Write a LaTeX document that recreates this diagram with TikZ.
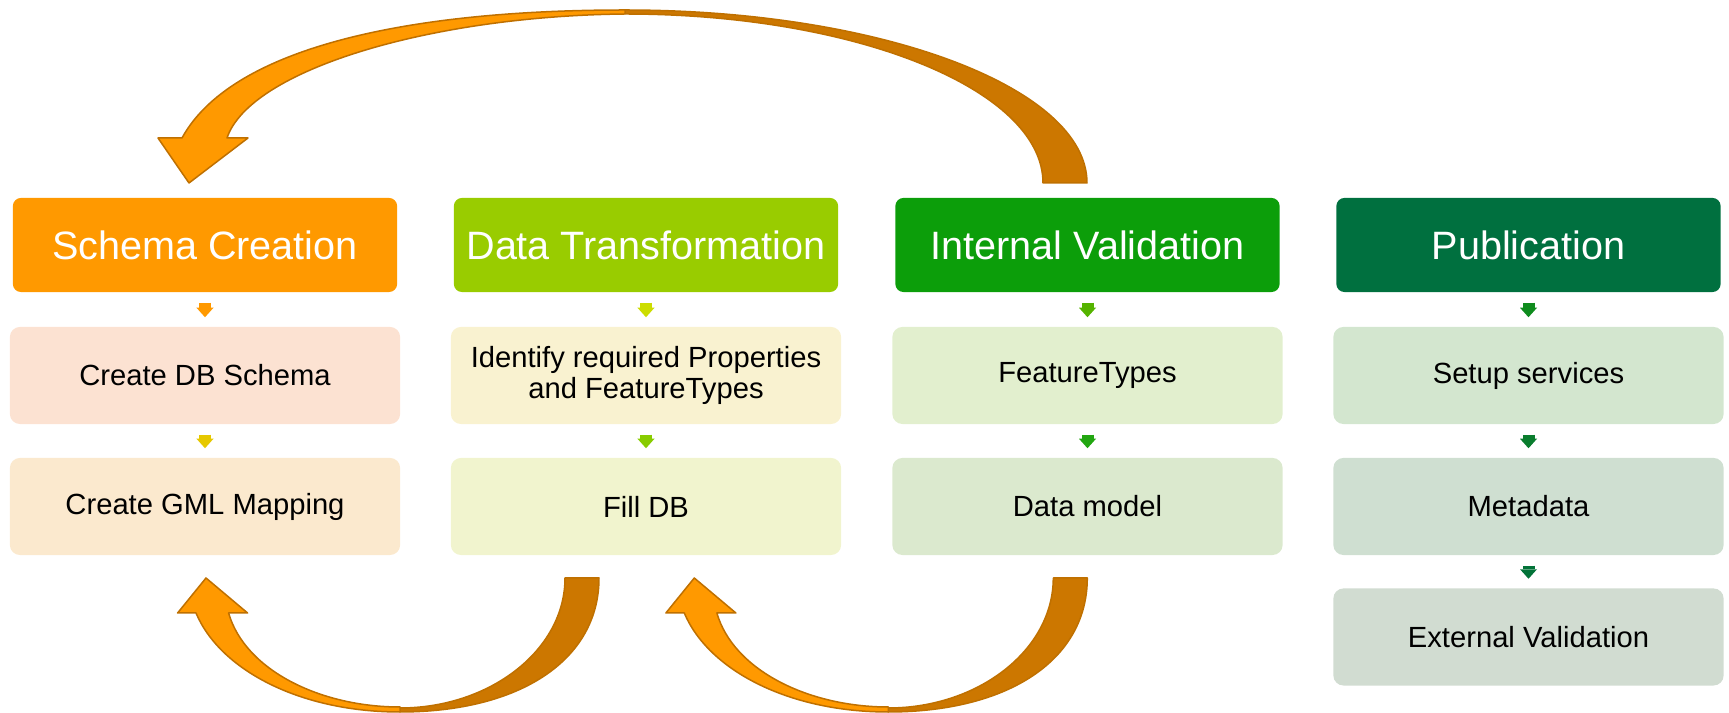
\documentclass[tikz,border=0pt]{standalone}
\usepackage{fontspec}
\setmainfont{Liberation Sans}
\usetikzlibrary{arrows.meta}
\definecolor{hOrange}{HTML}{FF9900}
\definecolor{hLime}{HTML}{99CC00}
\definecolor{hGreen}{HTML}{0C9E0A}
\definecolor{hDark}{HTML}{00703F}
\definecolor{bA1}{HTML}{FCE2D2}
\definecolor{bA2}{HTML}{FBE9CE}
\definecolor{bB1}{HTML}{F9F2D0}
\definecolor{bB2}{HTML}{F1F4CE}
\definecolor{bC1}{HTML}{E2EFCE}
\definecolor{bC2}{HTML}{DBE9CE}
\definecolor{bD1}{HTML}{D3E6CF}
\definecolor{bD2}{HTML}{CFDFD1}
\definecolor{bD3}{HTML}{D1DCD1}
\definecolor{aA1}{HTML}{FF9900}
\definecolor{aA2}{HTML}{E6C800}
\definecolor{aB1}{HTML}{CCDD00}
\definecolor{aB2}{HTML}{88CC00}
\definecolor{aC1}{HTML}{55B300}
\definecolor{aC2}{HTML}{22A611}
\definecolor{aD1}{HTML}{0F8C1E}
\definecolor{aD2}{HTML}{0A7D2E}
\definecolor{aD3}{HTML}{037339}
\definecolor{arrLight}{HTML}{FF9900}
\definecolor{arrDark}{HTML}{CC7700}
\definecolor{arrLine}{HTML}{BF7000}
\begin{document}
\begin{tikzpicture}[x=0.01cm,y=-0.01cm,
  hdr/.style={rounded corners=0.08cm, minimum width=3.84cm, minimum height=0.94cm,
    text=white, font=\fontsize{11.25}{13}\selectfont, inner sep=0pt},
  sub/.style={rounded corners=0.1cm, minimum width=3.9cm, minimum height=0.97cm,
    font=\fontsize{8.3}{8.75}\selectfont, align=center, inner sep=0pt},
  dn/.style={line width=0.12cm, -{Triangle[width=0.17cm,length=0.095cm,line width=0pt]},
    shorten <=0.1cm, shorten >=0.09cm},
  bigpart/.style={draw=arrLine, line width=0.015cm, line join=round}
]
\useasboundingbox (0,0) rectangle (1729,713);

% column 1
\node[hdr, fill=hOrange] (h1) at (205,245) {Schema Creation};
\node[sub, fill=bA1] (s11) at (205,375.5) {Create DB Schema};
\node[sub, fill=bA2] (s12) at (205,506.5) {Create GML Mapping};
% column 2
\node[hdr, fill=hLime] (h2) at (646,245) {Data Transformation};
\node[sub, fill=bB1] (s21) at (646,375.5) {Identify required Properties\\and FeatureTypes};
\node[sub, fill=bB2] (s22) at (646,506.5) {Fill DB};
% column 3
\node[hdr, fill=hGreen] (h3) at (1087.5,245) {Internal Validation};
\node[sub, fill=bC1] (s31) at (1087.5,375.5) {FeatureTypes};
\node[sub, fill=bC2] (s32) at (1087.5,506.5) {Data model};
% column 4
\node[hdr, fill=hDark] (h4) at (1528.5,245) {Publication};
\node[sub, fill=bD1] (s41) at (1528.5,375.5) {Setup services};
\node[sub, fill=bD2] (s42) at (1528.5,506.5) {Metadata};
\node[sub, fill=bD3] (s43) at (1528.5,637) {External Validation};

% small arrows
\draw[dn, aA1] (h1) -- (s11);
\draw[dn, aA2] (s11) -- (s12);
\draw[dn, aB1] (h2) -- (s21);
\draw[dn, aB2] (s21) -- (s22);
\draw[dn, aC1] (h3) -- (s31);
\draw[dn, aC2] (s31) -- (s32);
\draw[dn, aD1] (h4) -- (s41);
\draw[dn, aD2] (s41) -- (s42);
\draw[dn, aD3] (s42) -- (s43);

% top curved arrow (Internal Validation -> Schema Creation)
\filldraw[bigpart, fill=arrDark] (625,10) .. controls (880,10) and (1087,87.5) .. (1087,183)
  -- (1043,183) .. controls (1043,89.7) and (856,14) .. (625,14) -- cycle;
\filldraw[bigpart, fill=arrLight] (625,10) .. controls (400,10) and (230,50) .. (182,138)
  -- (158,138) -- (189,183) -- (248,138) -- (227,138)
  .. controls (250,70) and (430,16) .. (625,14) -- cycle;

% bottom curved arrows
\foreach \dx in {0,4.88} {
\begin{scope}[xshift=\dx cm]
\filldraw[bigpart, fill=arrDark] (599,578) .. controls (599,660) and (520,712) .. (400,712)
  -- (400,708) .. controls (490,708) and (565,650) .. (565,578) -- cycle;
\filldraw[bigpart, fill=arrLight] (400,712) .. controls (300,712) and (220,670) .. (196,613)
  -- (177.6,613) -- (206,578) -- (247.6,613) -- (228.6,613)
  .. controls (245,670) and (320,707) .. (400,707) -- cycle;
\end{scope}
}
\end{tikzpicture}
\end{document}
